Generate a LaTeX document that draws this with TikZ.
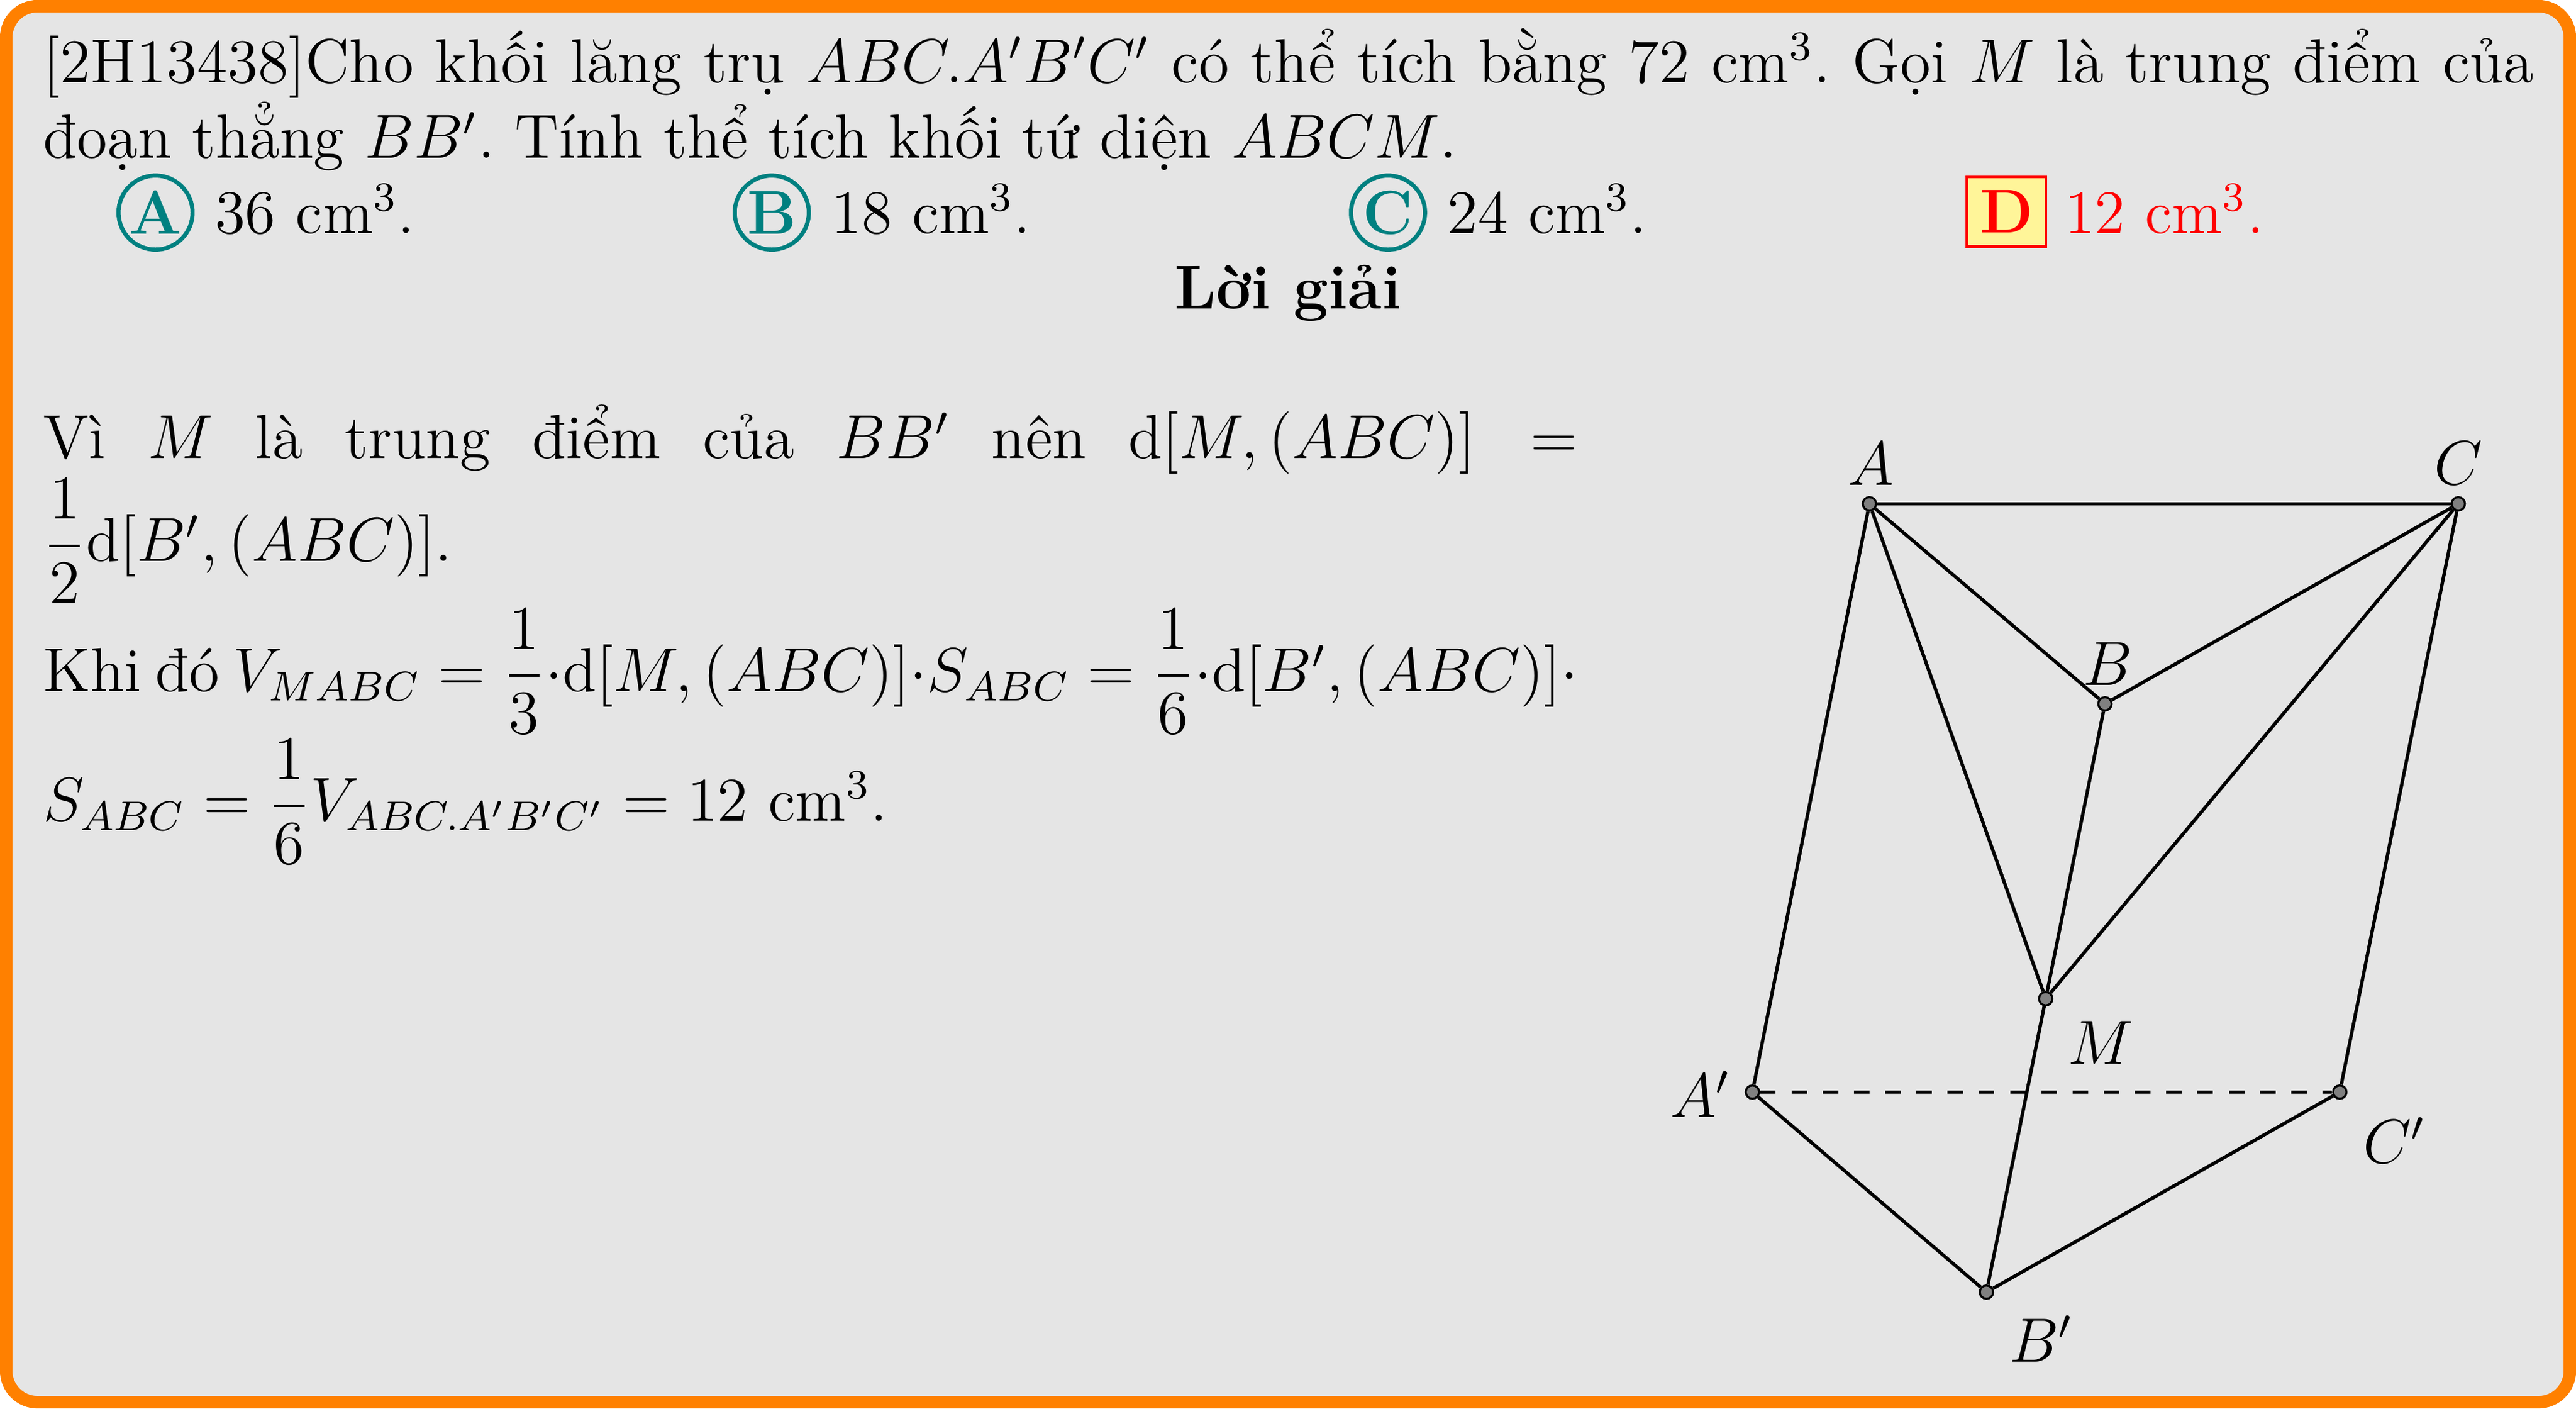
\documentclass[tikz,border=0pt,12pt]{standalone}
\usepackage{amsmath}
\usetikzlibrary{calc}

\definecolor{boxyellow}{HTML}{FFF599}

\tikzset{
  fsc/.style={transform shape,scale=0.99},
  txt/.style={fsc,anchor=base west,inner sep=0pt},
  para/.style={transform shape,scale=0.995,anchor=north west,inner sep=0pt,align=justify},
  dot/.style={circle,draw=black,fill=black!50,line width=0.4pt,inner sep=0pt,minimum size=0.09cm},
  edge/.style={line width=0.65pt},
  optcirc/.style={fsc,circle,draw=teal,line width=0.8pt,text=teal,font=\bfseries,inner sep=0pt,minimum size=0.505cm},
  optbox/.style={fsc,draw=red,fill=boxyellow,line width=0.5pt,text=red,font=\bfseries,inner sep=0pt,minimum width=0.54cm,minimum height=0.475cm}
}

\begin{document}
\frenchspacing
\begin{tikzpicture}
  \useasboundingbox (0,0) rectangle (17.39,9.505);
  \draw[draw=orange,fill=black!10,line width=2.4pt,rounded corners=6pt]
    (0.042,0.042) rectangle (17.348,9.463);

  % question
  \node[para,text width=16.9cm] (question) at (0.285,9.318)
    {[2H13438]Cho khối lăng trụ $ABC.A'B'C'$ có thể tích bằng 72 cm$^3$. Gọi $M$ là trung điểm của đoạn thẳng $BB'$. Tính thể tích khối tứ diện $ABCM$.};

  % options
  \foreach \l/\x/\v in {A/1.05/36,B/5.21/18,C/9.37/24} {
    \node[optcirc] (opt\l) at (\x,8.07) {\l};
    \node[txt] (val\l) at ($(opt\l.center)+(0.395,-0.14)$) {\v{} cm$^3$.};
  }
  \node[optbox] (optD) at (13.545,8.077) {D};
  \node[txt,text=red] (valD) at ($(optD.center)+(0.385,-0.147)$) {12 cm$^3$.};

  \node[fsc,font=\bfseries,anchor=base] (head) at (8.695,7.42) {Lời giải};

  % solution
  \node[para,text width=10.41cm] (solution) at (0.285,6.78)
    {Vì $M$ là trung điểm của $BB'$ nên $\mathrm{d}[M,(ABC)]=\dfrac{1}{2}\mathrm{d}[B',(ABC)]$.\\
     \mbox{\spaceskip=2.7pt Khi đó $V_{MABC}=\dfrac{1}{3}{\cdot}\mathrm{d}[M,(ABC)]{\cdot}S_{ABC}=\dfrac{1}{6}{\cdot}\mathrm{d}[B',(ABC)]{\cdot}$}\\
     $S_{ABC}=\dfrac{1}{6}V_{ABC.A'B'C'}=12$ cm$^3$.};

  % prism
  \foreach \p/\x/\y in {A/12.62/6.105,C/16.595/6.105,B/14.21/4.755,M/13.81/2.765,Ap/11.83/2.135,Cp/15.795/2.135,Bp/13.41/0.785} {
    \node[dot] (\p) at (\x,\y) {};
  }
  \draw[edge] (A) -- (C);
  \draw[edge] (A) -- (B);
  \draw[edge] (B) -- (C);
  \draw[edge] (A) -- (M);
  \draw[edge] (C) -- (M);
  \draw[edge] (B) -- (M);
  \draw[edge] (M) -- (Bp);
  \draw[edge] (A) -- (Ap);
  \draw[edge] (C) -- (Cp);
  \draw[edge] (Ap) -- (Bp);
  \draw[edge] (Bp) -- (Cp);
  \draw[edge,dashed] (Ap) -- (Cp);

  \foreach \p/\t/\dx/\dy in {A/A/0.01/0.27,C/C/0.0/0.275,B/B/0.02/0.27,M/M/0.37/-0.295,Ap/A'/-0.35/-0.015,Cp/C'/0.37/-0.325,Bp/B'/0.37/-0.315} {
    \node[inner sep=0pt] (lab\p) at ($(\p)+(\dx,\dy)$) {$\t$};
  }
\end{tikzpicture}
\end{document}
